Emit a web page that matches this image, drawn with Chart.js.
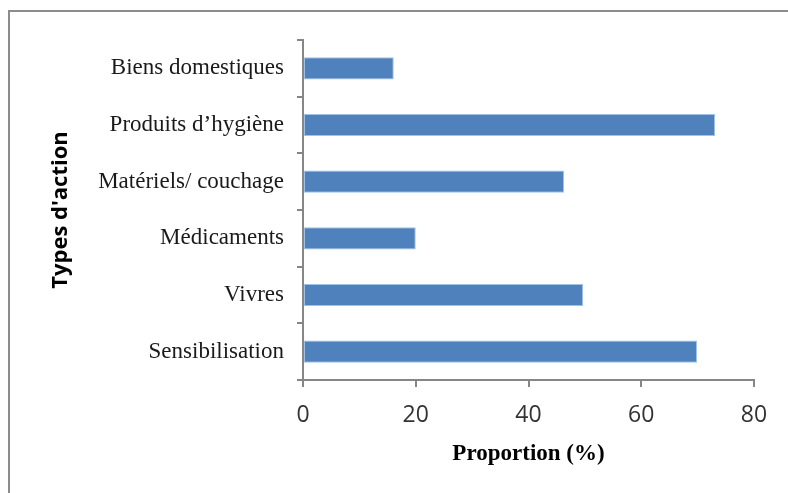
<!DOCTYPE html>
<html>
<head>
<meta charset="utf-8">
<script src="https://cdn.jsdelivr.net/npm/chart.js@4"></script>
<style>
  html, body { margin: 0; padding: 0; background: #fff; }
  #wrap { position: relative; width: 788px; height: 493px; overflow: hidden; }
  #frame { position: absolute; left: 8px; top: 10px; width: 900px; height: 600px;
           border-left: 2px solid #8c8c8c; border-top: 2px solid #8c8c8c; }
  #chart { position: absolute; left: 0; top: 0; }
</style>
</head>
<body>
<div id="wrap">
  <div id="frame"></div>
  <canvas id="chart" width="788" height="493"></canvas>
</div>
<script>
const categories = ["Biens domestiques", "Produits d’hygiène", "Matériels/ couchage", "Médicaments", "Vivres", "Sensibilisation"];
const proportions = [16.1, 73.1, 46.3, 20.0, 49.7, 69.9];
const xTicks = [0, 20, 40, 60, 80];

const axisGray = "#868686";

const ctx = document.getElementById("chart").getContext("2d");
new Chart(ctx, {
    type: "bar",
    data: {
        labels: categories,
        datasets: [{
            label: "Proportion (%)",
            data: proportions,
            backgroundColor: "#4f81bd",
            borderColor: "#9dc3e6",
            borderWidth: 1,
            borderSkipped: false,
            barPercentage: 0.39,
            categoryPercentage: 1
        }]
    },
    options: {
        indexAxis: "y",
        responsive: false,
        devicePixelRatio: 1,
        animation: false,
        layout: { padding: { left: 0, top: 40, right: 34, bottom: 0 } },
        plugins: { legend: { display: false }, tooltip: { enabled: false } },
        scales: {
            y: {
                afterFit: s => { s.width = 303; },
                grid: { display: true, drawOnChartArea: false, offset: true, tickLength: 6, color: axisGray, lineWidth: 2 },
                border: { color: axisGray, width: 2 },
                ticks: { padding: 13, color: "#1a1a1a", font: { family: "Liberation Serif", size: 23 } },
                title: {
                    display: true, text: "Types d'action", color: "#000",
                    font: { family: "Open Sans", size: 22, weight: "bold" },
                    padding: { top: 48, bottom: 0 }
                }
            },
            x: {
                min: 0, max: 80,
                afterFit: s => { s.height = 113; },
                afterBuildTicks: s => { s.ticks = xTicks.map(v => ({ value: v })); },
                grid: { display: true, drawOnChartArea: false, tickLength: 7, color: axisGray, lineWidth: 2 },
                border: { color: axisGray, width: 2 },
                ticks: { padding: 15, color: "#333", font: { family: "Open Sans", size: 23 } },
                title: {
                    display: true, text: "Proportion (%)", color: "#000",
                    font: { family: "Liberation Serif", size: 23, weight: "bold" },
                    padding: { top: 0, bottom: 25 }
                }
            }
        }
    }
});
</script>
</body>
</html>
